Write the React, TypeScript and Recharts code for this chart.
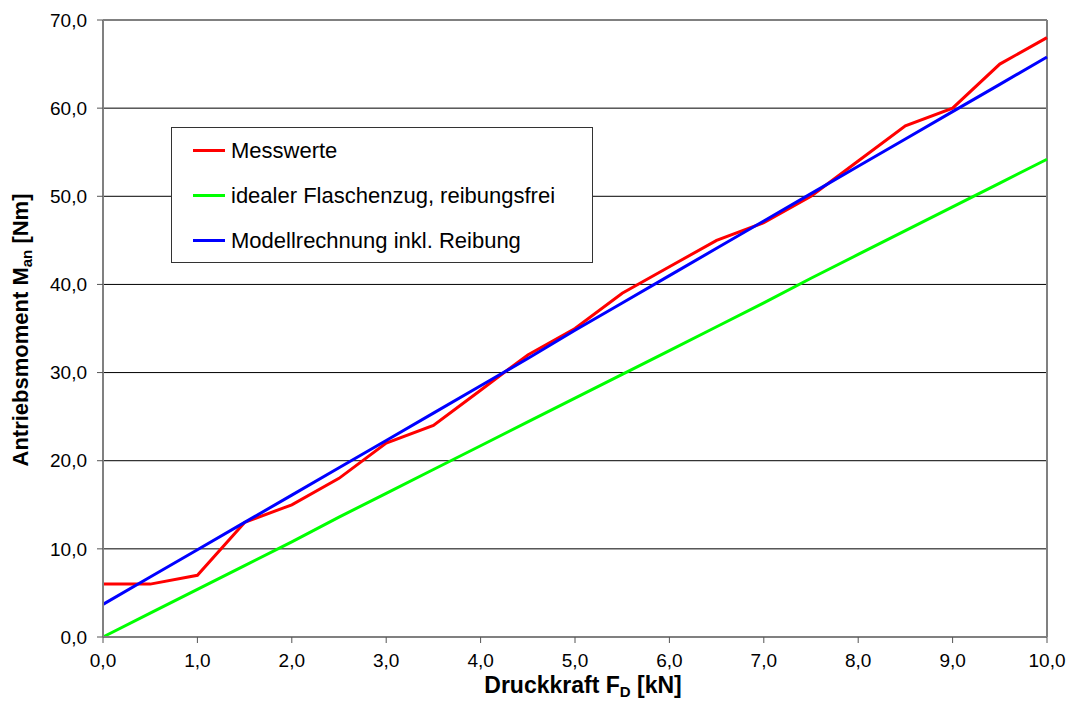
import { LineChart, Line, XAxis, YAxis, CartesianGrid, Legend, ReferenceLine } from 'recharts';

// Druckkraft in kN
const kraft = [0, 0.5, 1, 1.5, 2, 2.5, 3, 3.5, 4, 4.5, 5, 5.5, 6, 6.5, 7, 7.5, 8, 8.5, 9, 9.5, 10];
const messwerte = [6, 6, 7, 13, 15, 18, 22, 24, 28, 32, 35, 39, 42, 45, 47, 50, 54, 58, 60, 65, 68];
const idealReibungsfrei = [0, 2.7, 5.4, 8.1, 10.8, 13.6, 16.3, 19.0, 21.7, 24.4, 27.1, 29.8, 32.5, 35.2, 37.9, 40.7, 43.4, 46.1, 48.8, 51.5, 54.2];
const modellReibung = [3.7, 6.8, 9.9, 13.0, 16.1, 19.2, 22.3, 25.4, 28.5, 31.6, 34.8, 37.9, 41.0, 44.1, 47.2, 50.3, 53.4, 56.5, 59.6, 62.7, 65.8];

const xTicks = [0, 1, 2, 3, 4, 5, 6, 7, 8, 9, 10];
const yTicks = [0, 10, 20, 30, 40, 50, 60, 70];

const series = [
  { key: 'mess', name: 'Messwerte', color: '#ff0000' },
  { key: 'ideal', name: 'idealer Flaschenzug, reibungsfrei', color: '#00ff00' },
  { key: 'modell', name: 'Modellrechnung inkl. Reibung', color: '#0000ff' },
];

const data = kraft.map((x, i) => ({
  x,
  mess: messwerte[i],
  ideal: idealReibungsfrei[i],
  modell: modellReibung[i],
}));

const fmt = (v: number) => v.toFixed(1).replace('.', ',');
const font = 'Arial, "Liberation Sans", sans-serif';

function LegendBox() {
  return (
    <div
      style={{
        width: 422,
        height: 136,
        border: '1px solid #333',
        background: '#fff',
        boxSizing: 'border-box',
        fontFamily: font,
        fontSize: 22,
        color: '#000',
      }}
    >
      {series.map(s => (
        <div key={s.key} style={{ display: 'flex', alignItems: 'center', height: 45 }}>
          <div style={{ width: 32, height: 3, background: s.color, marginLeft: 21, marginRight: 6 }} />
          <span>{s.name}</span>
        </div>
      ))}
    </div>
  );
}

export default function App() {
  return (
    <div style={{ position: 'absolute', left: 0, top: 0, background: '#fff' }}>
      <LineChart width={1069} height={702} data={data} margin={{ top: 20, right: 22, left: 0, bottom: 0 }}>
        <CartesianGrid vertical={false} stroke="#000" strokeWidth={1} />
        <XAxis
          dataKey="x"
          type="number"
          domain={[0, 10]}
          ticks={xTicks}
          tickFormatter={fmt}
          height={65}
          axisLine={{ stroke: '#808080', strokeWidth: 2 }}
          tickLine={{ stroke: '#555', strokeWidth: 1 }}
          tickSize={6}
          tick={{ fill: '#000', fontSize: 19, fontFamily: font }}
          tickMargin={11}
          label={{
            value: 'Druckkraft F_D [kN]',
            content: (props: any) => {
              const vb = props.viewBox;
              return (
                <text
                  x={vb.x + vb.width / 2 + 8}
                  y={693}
                  textAnchor="middle"
                  fontFamily={font}
                  fontSize={23}
                  fontWeight="bold"
                  fill="#000"
                >
                  Druckkraft F
                  <tspan fontSize={15} dy={4}>D</tspan>
                  <tspan dy={-4}> [kN]</tspan>
                </text>
              );
            },
          }}
        />
        <YAxis
          type="number"
          domain={[0, 70]}
          ticks={yTicks}
          tickFormatter={fmt}
          width={103}
          axisLine={{ stroke: '#808080', strokeWidth: 2 }}
          tickLine={{ stroke: '#555', strokeWidth: 1 }}
          tickSize={6}
          tickMargin={10}
          tick={{ fill: '#000', fontSize: 19, fontFamily: font }}
          label={{
            value: 'Antriebsmoment M_an [Nm]',
            content: () => (
              <text
                x={0}
                y={0}
                transform="translate(28, 330) rotate(-90)"
                textAnchor="middle"
                fontFamily={font}
                fontSize={22}
                fontWeight="bold"
                fill="#000"
              >
                Antriebsmoment M
                <tspan fontSize={15} dy={4}>an</tspan>
                <tspan dy={-4}> [Nm]</tspan>
              </text>
            ),
          }}
        />
        <ReferenceLine y={70} stroke="#808080" strokeWidth={2} />
        <ReferenceLine x={10} stroke="#808080" strokeWidth={2} />
        <Legend
          layout="vertical"
          align="center"
          verticalAlign="middle"
          content={() => <LegendBox />}
          wrapperStyle={{ position: 'absolute', left: 171, top: 127, width: 422, height: 136 }}
        />
        {series.map(s => (
          <Line
            key={s.key}
            dataKey={s.key}
            name={s.name}
            stroke={s.color}
            strokeWidth={3}
            dot={false}
            activeDot={false}
            type="linear"
            isAnimationActive={false}
          />
        ))}
      </LineChart>
    </div>
  );
}
